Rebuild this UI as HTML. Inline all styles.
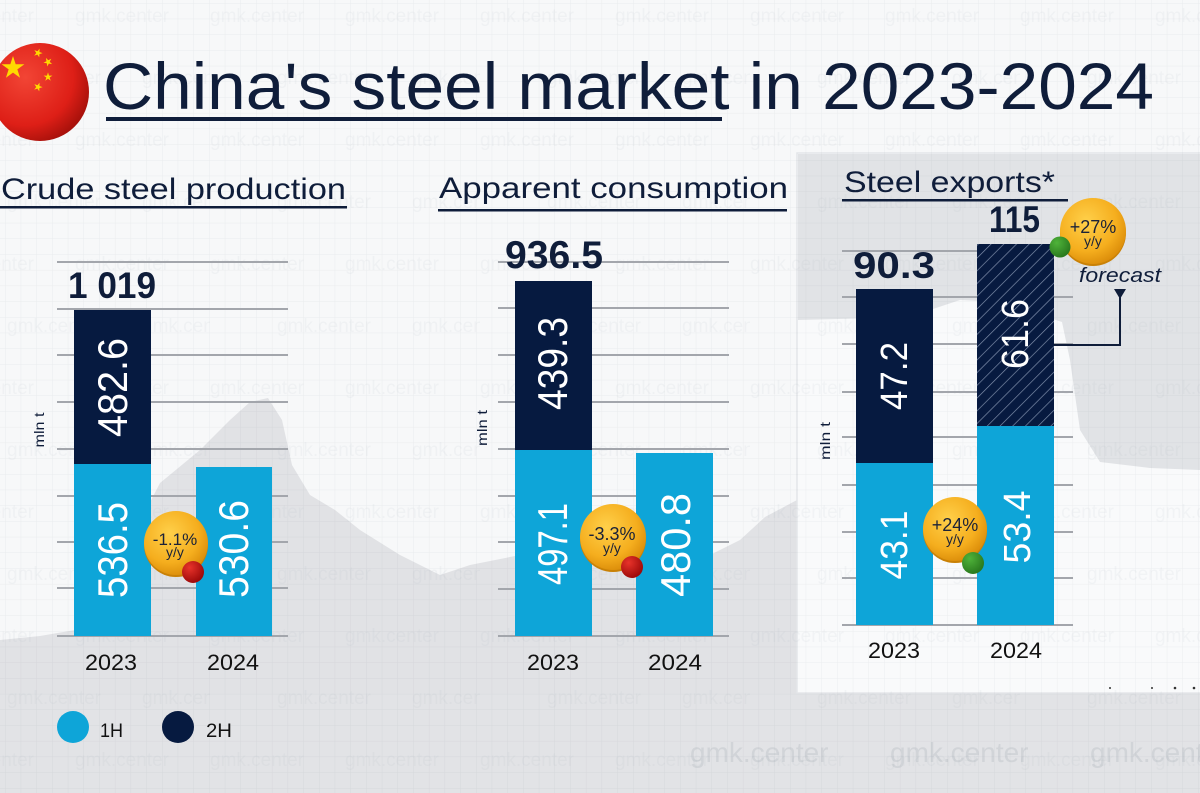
<!DOCTYPE html>
<html>
<head>
<meta charset="utf-8">
<style>
  html,body{margin:0;padding:0;background:#f6f7f8;}
  svg{display:block;}
  text{font-family:"Liberation Sans", Arial, sans-serif;}
</style>
</head>
<body>
<svg width="1200" height="793" viewBox="0 0 1200 793" xmlns="http://www.w3.org/2000/svg">
  <defs>
    <pattern id="grid" width="15.7" height="15.7" patternUnits="userSpaceOnUse" x="5" y="3">
      <path d="M15.7 0 L0 0 L0 15.7" fill="none" stroke="rgba(60,70,90,0.07)" stroke-width="1"/>
    </pattern>
    <pattern id="wm" width="270" height="124" patternUnits="userSpaceOnUse" x="-60" y="0">
      <text x="0" y="22" font-size="19" fill="rgba(120,135,155,0.06)">gmk.center</text>
      <text x="135" y="22" font-size="19" fill="rgba(120,135,155,0.06)">gmk.center</text>
      <text x="67" y="84" font-size="19" fill="rgba(120,135,155,0.06)">gmk.center</text>
      <text x="202" y="84" font-size="19" fill="rgba(120,135,155,0.06)">gmk.center</text>
    </pattern>
    <pattern id="hatch" width="9" height="9" patternUnits="userSpaceOnUse" patternTransform="rotate(45)">
      <rect width="9" height="9" fill="#071a40"/>
      <line x1="0" y1="0" x2="0" y2="9" stroke="#8594b0" stroke-width="1.3"/>
    </pattern>
    <radialGradient id="flagG" cx="35%" cy="35%" r="70%">
      <stop offset="0" stop-color="#f24535"/>
      <stop offset="0.7" stop-color="#de1f17"/>
      <stop offset="1" stop-color="#a8110b"/>
    </radialGradient>
    <radialGradient id="coin" cx="40%" cy="35%" r="70%">
      <stop offset="0" stop-color="#ffd04a"/>
      <stop offset="0.65" stop-color="#f5ae1e"/>
      <stop offset="1" stop-color="#d98a08"/>
    </radialGradient>
    <radialGradient id="redDot" cx="35%" cy="30%" r="70%">
      <stop offset="0" stop-color="#e8332a"/>
      <stop offset="1" stop-color="#9e0a0a"/>
    </radialGradient>
    <radialGradient id="greenDot" cx="35%" cy="30%" r="70%">
      <stop offset="0" stop-color="#4fb33a"/>
      <stop offset="1" stop-color="#2a7a1e"/>
    </radialGradient>
    <path id="star" d="M0,-1 L0.2245,-0.309 L0.951,-0.309 L0.363,0.118 L0.588,0.809 L0,0.382 L-0.588,0.809 L-0.363,0.118 L-0.951,-0.309 L-0.2245,-0.309 Z"/>
  </defs>

  <!-- background -->
  <rect width="1200" height="793" fill="#f7f8f9"/>
  <!-- map silhouette -->
  <path d="M0,640 L40,636 L75,630 L120,560 L160,483 L200,450 L230,420 L250,402 L268,398 L282,420 L292,465 L310,495 L335,510 L360,530 L400,555 L440,575 L470,565 L520,555 L580,560 L640,565 L700,560 L740,540 L765,517 L797,500 L797,793 L0,793 Z" fill="#e1e2e5"/>
  <rect x="0" y="693" width="1200" height="100" fill="#e2e3e6"/>

  <!-- exports box -->
  <rect x="797" y="153" width="410" height="540" fill="#f9fafb" stroke="#e4e6e9" stroke-width="1.5"/>
  <path d="M798,154 L1200,154 L1200,470 L1150,468 L1100,462 L1080,430 L1070,360 L1062,322 L1000,302 L960,300 L930,310 L880,318 L798,320 Z" fill="#e1e3e6"/>

  <!-- grid & watermark overlays -->
  <rect width="1200" height="793" fill="url(#grid)"/>
  <rect width="1200" height="793" fill="url(#wm)"/>
  <text x="690" y="762" font-size="28" fill="rgba(150,158,170,0.22)">gmk.center</text>
  <text x="890" y="762" font-size="28" fill="rgba(150,158,170,0.22)">gmk.center</text>
  <text x="1090" y="762" font-size="28" fill="rgba(150,158,170,0.22)">gmk.center</text>

  <!-- flag -->
  <circle cx="40" cy="92" r="49" fill="url(#flagG)"/>
  <g fill="#ffd900">
    <use href="#star" transform="translate(13,68) scale(12)"/>
    <use href="#star" transform="translate(38,53) scale(4.6) rotate(20)"/>
    <use href="#star" transform="translate(48,62) scale(4.6) rotate(45)"/>
    <use href="#star" transform="translate(48,77) scale(4.6)"/>
    <use href="#star" transform="translate(38,87) scale(4.6) rotate(20)"/>
  </g>

  <!-- title -->
  <text x="103" y="109" font-size="66" fill="#0f1d3a" textLength="1051" lengthAdjust="spacingAndGlyphs">China's steel market in 2023-2024</text>
  <rect x="106" y="117" width="616" height="4" fill="#0f1d3a"/>

  <!-- section titles -->
  <text x="1" y="199" font-size="30" fill="#0f1d3a" textLength="345" lengthAdjust="spacingAndGlyphs">Crude steel production</text>
  <rect x="0" y="206" width="347" height="2.5" fill="#0f1d3a"/>
  <text x="439" y="198" font-size="30" fill="#0f1d3a" textLength="349" lengthAdjust="spacingAndGlyphs">Apparent consumption</text>
  <rect x="438" y="209" width="349" height="2.5" fill="#0f1d3a"/>
  <text x="844" y="192" font-size="30" fill="#0f1d3a" textLength="211" lengthAdjust="spacingAndGlyphs">Steel exports*</text>
  <rect x="842" y="199" width="226" height="2.5" fill="#0f1d3a"/>

  <!-- ===== Chart 1 ===== -->
  <g stroke="#a3a6ac" stroke-width="2">
    <line x1="57" y1="262" x2="288" y2="262"/>
    <line x1="57" y1="309" x2="288" y2="309"/>
    <line x1="57" y1="355" x2="288" y2="355"/>
    <line x1="57" y1="402" x2="288" y2="402"/>
    <line x1="57" y1="449" x2="288" y2="449"/>
    <line x1="57" y1="496" x2="288" y2="496"/>
    <line x1="57" y1="542" x2="288" y2="542"/>
    <line x1="57" y1="588" x2="288" y2="588"/>
    <line x1="57" y1="636" x2="288" y2="636"/>
  </g>
  <rect x="74" y="310" width="77" height="155" fill="#061a40"/>
  <rect x="74" y="464" width="77" height="172" fill="#0ea5d8"/>
  <rect x="196" y="467" width="76" height="169" fill="#0ea5d8"/>
  <text x="68" y="298" font-size="37" font-weight="bold" fill="#0f1d3a" textLength="88" lengthAdjust="spacingAndGlyphs">1 019</text>
  <text transform="translate(112,387.5) rotate(-90)" y="15" font-size="42" fill="#ffffff" text-anchor="middle" textLength="99" lengthAdjust="spacingAndGlyphs">482.6</text>
  <text transform="translate(112,550) rotate(-90)" y="15" font-size="42" fill="#ffffff" text-anchor="middle" textLength="96" lengthAdjust="spacingAndGlyphs">536.5</text>
  <text transform="translate(233,549) rotate(-90)" y="15" font-size="42" fill="#ffffff" text-anchor="middle" textLength="98" lengthAdjust="spacingAndGlyphs">530.6</text>
  <text transform="translate(39,430) rotate(-90)" y="5" font-size="14" fill="#0f1d3a" text-anchor="middle" textLength="35" lengthAdjust="spacingAndGlyphs">mln t</text>
  <circle cx="176" cy="545" r="32" fill="#c98106"/>
  <circle cx="176" cy="543" r="32" fill="url(#coin)"/>
  <text x="175" y="545" font-size="17" fill="#1b2238" text-anchor="middle">-1.1%</text>
  <text x="175" y="557" font-size="14" fill="#1b2238" text-anchor="middle">y/y</text>
  <circle cx="193" cy="572" r="11" fill="url(#redDot)"/>
  <text x="85" y="670" font-size="22" fill="#111" textLength="52" lengthAdjust="spacingAndGlyphs">2023</text>
  <text x="207" y="670" font-size="22" fill="#111" textLength="52" lengthAdjust="spacingAndGlyphs">2024</text>

  <!-- legend -->
  <circle cx="73" cy="727" r="16" fill="#0ea5d8"/>
  <text x="100" y="737" font-size="19" fill="#111" textLength="23" lengthAdjust="spacingAndGlyphs">1H</text>
  <circle cx="178" cy="727" r="16" fill="#061a40"/>
  <text x="206" y="737" font-size="19" fill="#111" textLength="26" lengthAdjust="spacingAndGlyphs">2H</text>

  <!-- ===== Chart 2 ===== -->
  <g stroke="#a3a6ac" stroke-width="2">
    <line x1="498" y1="262" x2="729" y2="262"/>
    <line x1="498" y1="308" x2="729" y2="308"/>
    <line x1="498" y1="355" x2="729" y2="355"/>
    <line x1="498" y1="402" x2="729" y2="402"/>
    <line x1="498" y1="449" x2="729" y2="449"/>
    <line x1="498" y1="496" x2="729" y2="496"/>
    <line x1="498" y1="542" x2="729" y2="542"/>
    <line x1="498" y1="589" x2="729" y2="589"/>
    <line x1="498" y1="636" x2="729" y2="636"/>
  </g>
  <rect x="515" y="281" width="77" height="170" fill="#061a40"/>
  <rect x="515" y="450" width="77" height="186" fill="#0ea5d8"/>
  <rect x="636" y="453" width="77" height="183" fill="#0ea5d8"/>
  <text x="505" y="268" font-size="39" font-weight="bold" fill="#0f1d3a" textLength="98" lengthAdjust="spacingAndGlyphs">936.5</text>
  <text transform="translate(552,363.5) rotate(-90)" y="15" font-size="42" fill="#ffffff" text-anchor="middle" textLength="93" lengthAdjust="spacingAndGlyphs">439.3</text>
  <text transform="translate(552,544) rotate(-90)" y="15" font-size="42" fill="#ffffff" text-anchor="middle" textLength="82" lengthAdjust="spacingAndGlyphs">497.1</text>
  <text transform="translate(675,545) rotate(-90)" y="15" font-size="42" fill="#ffffff" text-anchor="middle" textLength="104" lengthAdjust="spacingAndGlyphs">480.8</text>
  <text transform="translate(482,428) rotate(-90)" y="5" font-size="14" fill="#0f1d3a" text-anchor="middle" textLength="36" lengthAdjust="spacingAndGlyphs">mln t</text>
  <circle cx="613" cy="539" r="33" fill="#c98106"/>
  <circle cx="613" cy="537" r="33" fill="url(#coin)"/>
  <text x="612" y="540" font-size="18" fill="#1b2238" text-anchor="middle">-3.3%</text>
  <text x="612" y="553" font-size="14" fill="#1b2238" text-anchor="middle">y/y</text>
  <circle cx="632" cy="567" r="11" fill="url(#redDot)"/>
  <text x="527" y="670" font-size="22" fill="#111" textLength="52" lengthAdjust="spacingAndGlyphs">2023</text>
  <text x="648" y="670" font-size="22" fill="#111" textLength="54" lengthAdjust="spacingAndGlyphs">2024</text>

  <!-- ===== Chart 3 ===== -->
  <g stroke="#a3a6ac" stroke-width="2">
    <line x1="842" y1="251" x2="1073" y2="251"/>
    <line x1="842" y1="297" x2="1073" y2="297"/>
    <line x1="842" y1="344" x2="1073" y2="344"/>
    <line x1="842" y1="392" x2="1073" y2="392"/>
    <line x1="842" y1="437" x2="1073" y2="437"/>
    <line x1="842" y1="485" x2="1073" y2="485"/>
    <line x1="842" y1="532" x2="1073" y2="532"/>
    <line x1="842" y1="578" x2="1073" y2="578"/>
    <line x1="842" y1="625" x2="1073" y2="625"/>
  </g>
  <rect x="856" y="289" width="77" height="175" fill="#061a40"/>
  <rect x="856" y="463" width="77" height="162" fill="#0ea5d8"/>
  <rect x="977" y="244" width="77" height="182" fill="url(#hatch)"/>
  <rect x="977" y="426" width="77" height="199" fill="#0ea5d8"/>
  <text x="853" y="278" font-size="37" font-weight="bold" fill="#0f1d3a" textLength="82" lengthAdjust="spacingAndGlyphs">90.3</text>
  <text x="989" y="232" font-size="37" font-weight="bold" fill="#0f1d3a" textLength="51" lengthAdjust="spacingAndGlyphs">115</text>
  <text transform="translate(893,376) rotate(-90)" y="14" font-size="38" fill="#ffffff" text-anchor="middle" textLength="68" lengthAdjust="spacingAndGlyphs">47.2</text>
  <text transform="translate(1014,334) rotate(-90)" y="14" font-size="38" fill="#ffffff" text-anchor="middle" textLength="70" lengthAdjust="spacingAndGlyphs">61.6</text>
  <text transform="translate(893,545) rotate(-90)" y="14" font-size="38" fill="#ffffff" text-anchor="middle" textLength="69" lengthAdjust="spacingAndGlyphs">43.1</text>
  <text transform="translate(1016,527) rotate(-90)" y="14" font-size="38" fill="#ffffff" text-anchor="middle" textLength="73" lengthAdjust="spacingAndGlyphs">53.4</text>
  <text transform="translate(825,441) rotate(-90)" y="5" font-size="14" fill="#0f1d3a" text-anchor="middle" textLength="38" lengthAdjust="spacingAndGlyphs">mln t</text>

  <!-- forecast arrow -->
  <polyline points="1054,345 1120,345 1120,296" fill="none" stroke="#0f1d3a" stroke-width="2"/>
  <polygon points="1114,289 1126,289 1120,299" fill="#0f1d3a"/>
  <text x="1079" y="282" font-size="20" font-style="italic" fill="#0f1d3a" textLength="82" lengthAdjust="spacingAndGlyphs">forecast</text>

  <circle cx="1093" cy="233" r="33" fill="#c98106"/>
  <circle cx="1093" cy="231" r="33" fill="url(#coin)"/>
  <text x="1093" y="233" font-size="18" fill="#1b2238" text-anchor="middle">+27%</text>
  <text x="1093" y="246" font-size="14" fill="#1b2238" text-anchor="middle">y/y</text>
  <circle cx="1060" cy="247" r="10.5" fill="url(#greenDot)"/>

  <circle cx="955" cy="531" r="32" fill="#c98106"/>
  <circle cx="955" cy="529" r="32" fill="url(#coin)"/>
  <text x="955" y="531" font-size="18" fill="#1b2238" text-anchor="middle">+24%</text>
  <text x="955" y="544" font-size="14" fill="#1b2238" text-anchor="middle">y/y</text>
  <circle cx="973" cy="563" r="11" fill="url(#greenDot)"/>

  <text x="868" y="658" font-size="22" fill="#111" textLength="52" lengthAdjust="spacingAndGlyphs">2023</text>
  <text x="990" y="658" font-size="22" fill="#111" textLength="52" lengthAdjust="spacingAndGlyphs">2024</text>

  <g fill="#333">
    <circle cx="1110" cy="688" r="1"/>
    <circle cx="1152" cy="688" r="1"/>
    <circle cx="1175" cy="688" r="1.3"/>
    <circle cx="1194" cy="688" r="1.3"/>
  </g>
</svg>
</body>
</html>
